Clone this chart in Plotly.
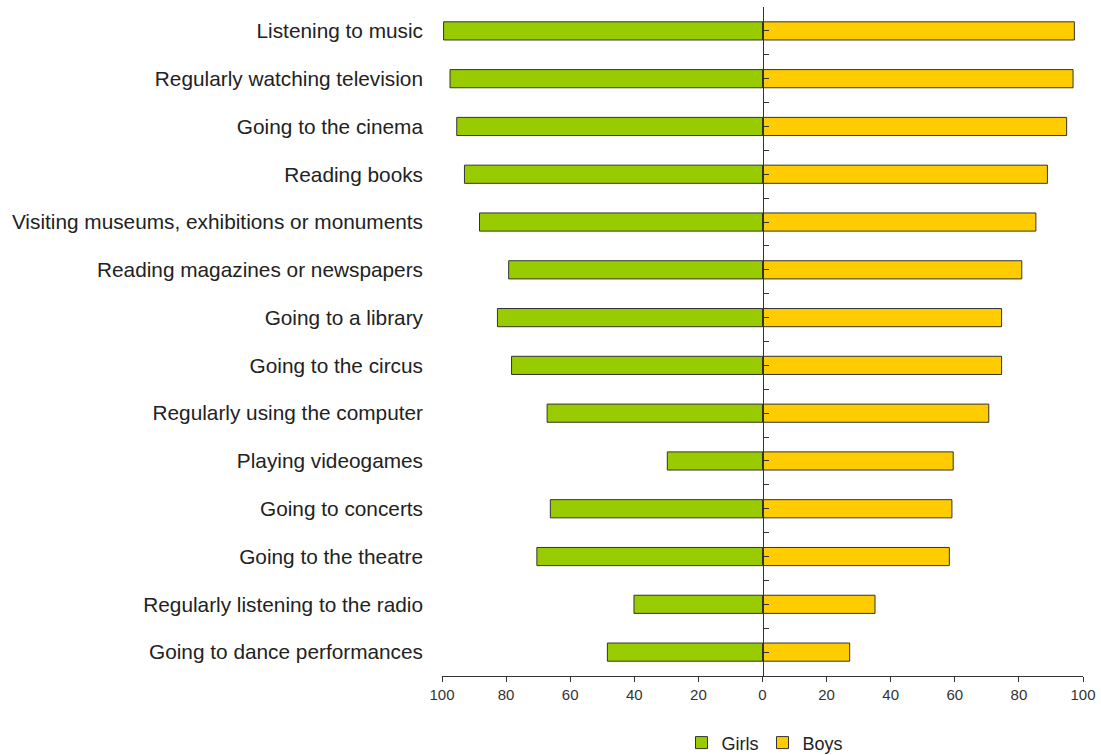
import plotly.graph_objects as go

categories = [
    "Listening to music",
    "Regularly watching television",
    "Going to the cinema",
    "Reading books",
    "Visiting museums, exhibitions or monuments",
    "Reading magazines or newspapers",
    "Going to a library",
    "Going to the circus",
    "Regularly using the computer",
    "Playing videogames",
    "Going to concerts",
    "Going to the theatre",
    "Regularly listening to the radio",
    "Going to dance performances",
]
girls = [99.5, 97.5, 95.4, 93.0, 88.3, 79.2, 82.7, 78.3, 67.2, 29.7, 66.2, 70.4, 40.1, 48.4]
boys = [97.3, 96.9, 94.9, 88.9, 85.3, 80.9, 74.6, 74.6, 70.6, 59.5, 59.1, 58.3, 35.1, 27.2]
x_ticks = [-100, -80, -60, -40, -20, 0, 20, 40, 60, 80, 100]
x_tick_labels = [str(abs(v)) for v in x_ticks]

font_family = "Liberation Sans, Arial, sans-serif"

fig = go.Figure()
fig.add_trace(go.Bar(
    y=categories, x=[-v for v in girls], orientation="h", name="Girls",
    marker=dict(color="#99CC00", line=dict(color="#333333", width=1)),
    customdata=girls, hovertemplate="%{y}: %{customdata}<extra>Girls</extra>",
))
fig.add_trace(go.Bar(
    y=categories, x=boys, orientation="h", name="Boys",
    marker=dict(color="#FFCC00", line=dict(color="#333333", width=1)),
    hovertemplate="%{y}: %{x}<extra>Boys</extra>",
))
# invisible helper trace so the central category axis is drawn
fig.add_trace(go.Scatter(
    x=[0] * len(categories), y=list(range(len(categories))), yaxis="y2",
    mode="markers", marker=dict(opacity=0), showlegend=False, hoverinfo="skip",
))

n = len(categories)
fig.update_layout(
    width=1101, height=755,
    margin=dict(l=442, r=18, t=7, b=79, autoexpand=False),
    paper_bgcolor="white", plot_bgcolor="white",
    barmode="relative", bargap=0.62,
    font=dict(family=font_family, color="#222222"),
    showlegend=True,
    legend=dict(orientation="h", x=0.5, xanchor="center", y=-0.1, yanchor="middle",
                font=dict(size=18, color="#222222"), itemwidth=30, entrywidth=36,
                traceorder="normal"),
    xaxis=dict(
        range=[-100, 100], tickvals=x_ticks, ticktext=x_tick_labels,
        showline=True, linecolor="#333333", linewidth=1,
        ticks="outside", ticklen=5, tickcolor="#333333",
        showgrid=False, zeroline=False, automargin=False,
        tickfont=dict(size=15, color="#333333"),
    ),
    yaxis=dict(
        type="category", categoryorder="array", categoryarray=categories,
        autorange="reversed", showgrid=False, showline=False, ticks="",
        automargin=False,
        ticklabelstandoff=18, tickfont=dict(size=20.8, color="#222222"),
    ),
    yaxis2=dict(
        overlaying="y", anchor="free", position=0.5, side="left",
        range=[n - 0.5, -0.5], tick0=-0.5, dtick=0.5,
        showline=True, linecolor="#333333", linewidth=1,
        ticks="inside", ticklen=5, tickcolor="#333333", automargin=False,
        showticklabels=False, showgrid=False, zeroline=False,
    ),
)

fig.write_html(
    "out.html",
    config={"displayModeBar": False},
    post_script="document.body.style.margin='0';document.body.style.overflow='hidden';",
)
